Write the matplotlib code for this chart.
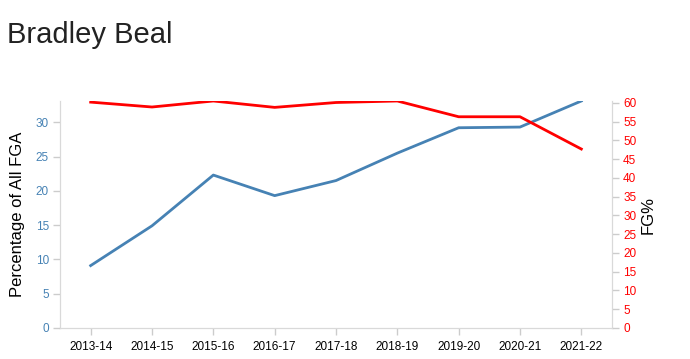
import matplotlib.pyplot as plt

plt.rcParams['font.family'] = ['Liberation Sans', 'DejaVu Sans']

seasons = ["2013-14", "2014-15", "2015-16", "2016-17", "2017-18",
           "2018-19", "2019-20", "2020-21", "2021-22"]
pct_fga = [9.1, 14.9, 22.3, 19.3, 21.5, 25.5, 29.2, 29.3, 33.1]
fg_pct = [60.2, 58.9, 60.5, 58.8, 60.1, 60.5, 56.3, 56.3, 47.7]

W, H = 690, 359
fig = plt.figure(figsize=(W / 100, H / 100), dpi=100)
left, right, top, bottom = 60, 612, 101, 328
ax = fig.add_axes([left / W, 1 - bottom / H, (right - left) / W, (bottom - top) / H])
ax2 = ax.twinx()

x = range(len(seasons))
ax.plot(x, pct_fga, color='#4682b4', lw=2)
ax2.plot(x, fg_pct, color='red', lw=2)

ax.set_xlim(-0.5, len(seasons) - 0.5)
ax.set_ylim(0, max(pct_fga))
ax2.set_ylim(0, max(fg_pct))
ax.set_xticks(list(x))
ax.set_xticklabels(seasons, fontsize=8.5)
ax.set_yticks(range(0, 31, 5))
ax2.set_yticks(range(0, 61, 5))

for a in (ax, ax2):
    for s in a.spines.values():
        s.set_color('#d9d9d9')
    a.spines['top'].set_visible(False)
    a.tick_params(color='#cccccc', length=5, width=1)

ax.tick_params(axis='y', labelcolor='#4682b4', labelsize=8.5, pad=3)
ax2.tick_params(axis='y', labelcolor='red', labelsize=8.5, pad=3)
ax.tick_params(axis='x', labelsize=8.5, pad=4)

ax.set_ylabel("Percentage of All FGA", fontsize=12, color='black', labelpad=8)
ax2.set_ylabel("FG%", fontsize=12, color='black', labelpad=3)

fig.text(7 / W, 1 - 35 / H, "Bradley Beal", fontsize=21, color='#222222', va='center', ha='left')

fig.savefig("out.png", dpi=100)
